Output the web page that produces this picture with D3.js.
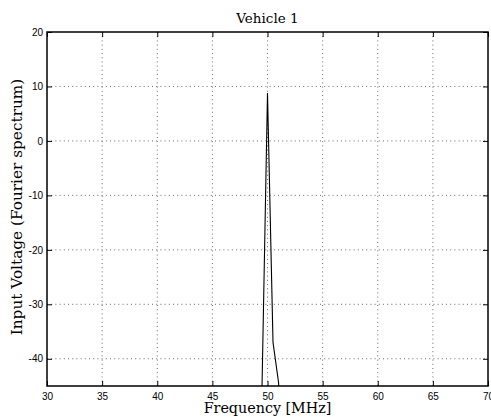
<!DOCTYPE html>
<html>
<head>
<meta charset="utf-8">
<script src="https://cdn.jsdelivr.net/npm/d3@7"></script>
<style>
  html, body { margin: 0; padding: 0; background: #fff; }
  svg { display: block; }
</style>
</head>
<body>
<svg id="chart" width="491" height="417"></svg>
<script>
// Spectrum samples around the 50 MHz carrier
const freqMHz = [49.0, 49.5, 50.0, 50.5, 51.0, 51.5];
const voltage = [-60, -45.5, 8.8, -37.0, -44.3, -60];

const xTicks = [30, 35, 40, 45, 50, 55, 60, 65, 70];
const yTicks = [-40, -30, -20, -10, 0, 10, 20];

const titleText = "Vehicle 1";
const xLabelText = "Frequency [MHz]";
const yLabelText = "Input Voltage (Fourier spectrum)";

const W = 491, H = 417;
const m = { left: 47, right: 3, top: 32, bottom: 31 };
const iw = W - m.left - m.right, ih = H - m.top - m.bottom;

const svg = d3.select("#chart");
const g = svg.append("g").attr("transform", `translate(${m.left},${m.top})`);

const x = d3.scaleLinear().domain([30, 70]).range([0, iw]);
const y = d3.scaleLinear().domain([-45, 20]).range([ih, 0]);

// dotted grid
const grid = g.append("g").attr("stroke", "#444").attr("stroke-width", 0.8)
  .attr("stroke-dasharray", "1,3.2");
grid.selectAll(".gx").data(xTicks.filter(d => d > 30 && d < 70)).join("line")
  .attr("x1", d => x(d)).attr("x2", d => x(d)).attr("y1", 0).attr("y2", ih);
grid.selectAll(".gy").data(yTicks.filter(d => d > -45 && d < 20)).join("line")
  .attr("y1", d => y(d)).attr("y2", d => y(d)).attr("x1", 0).attr("x2", iw);

// data line, clipped to the axes box
svg.append("defs").append("clipPath").attr("id", "plotclip")
  .append("rect").attr("width", iw).attr("height", ih);
const line = d3.line().x((d, i) => x(freqMHz[i])).y(d => y(d));
g.append("path").datum(voltage)
  .attr("clip-path", "url(#plotclip)")
  .attr("fill", "none").attr("stroke", "#000").attr("stroke-width", 1.1)
  .attr("d", line);

// axes with inward ticks on all four sides
const tickFont = "'Liberation Sans', Arial, sans-serif";
const styleAxis = sel => {
  sel.select(".domain").remove();
  sel.selectAll(".tick line").attr("stroke", "#000").attr("stroke-width", 1);
  sel.selectAll(".tick text").attr("font-family", tickFont).attr("font-size", 10).attr("fill", "#000");
};
const fmt = d => (d < 0 ? "-" : "") + Math.abs(d);

g.append("g").attr("transform", `translate(0,${ih})`)
  .call(d3.axisBottom(x).tickValues(xTicks).tickSizeInner(-5).tickSizeOuter(0).tickPadding(7).tickFormat(fmt))
  .call(styleAxis);
g.append("g")
  .call(d3.axisTop(x).tickValues(xTicks).tickSizeInner(-5).tickSizeOuter(0).tickFormat(""))
  .call(styleAxis);
g.append("g")
  .call(d3.axisLeft(y).tickValues(yTicks).tickSizeInner(-5).tickSizeOuter(0).tickPadding(4).tickFormat(fmt))
  .call(styleAxis);
g.append("g").attr("transform", `translate(${iw},0)`)
  .call(d3.axisRight(y).tickValues(yTicks).tickSizeInner(-5).tickSizeOuter(0).tickFormat(""))
  .call(styleAxis);

// axes box
g.append("rect").attr("width", iw).attr("height", ih)
  .attr("fill", "none").attr("stroke", "#000").attr("stroke-width", 1.5);

// labels
const serif = "'DejaVu Serif', 'Liberation Serif', serif";
svg.append("text").attr("x", m.left + iw / 2).attr("y", 23)
  .attr("text-anchor", "middle").attr("font-family", serif).attr("font-size", 13.5)
  .text(titleText);
svg.append("text").attr("x", m.left + iw / 2).attr("y", 413)
  .attr("text-anchor", "middle").attr("font-family", serif).attr("font-size", 14.3)
  .text(xLabelText);
svg.append("text")
  .attr("transform", `translate(22,207) rotate(-90)`)
  .attr("text-anchor", "middle").attr("font-family", serif).attr("font-size", 15.3)
  .text(yLabelText);
</script>
</body>
</html>
